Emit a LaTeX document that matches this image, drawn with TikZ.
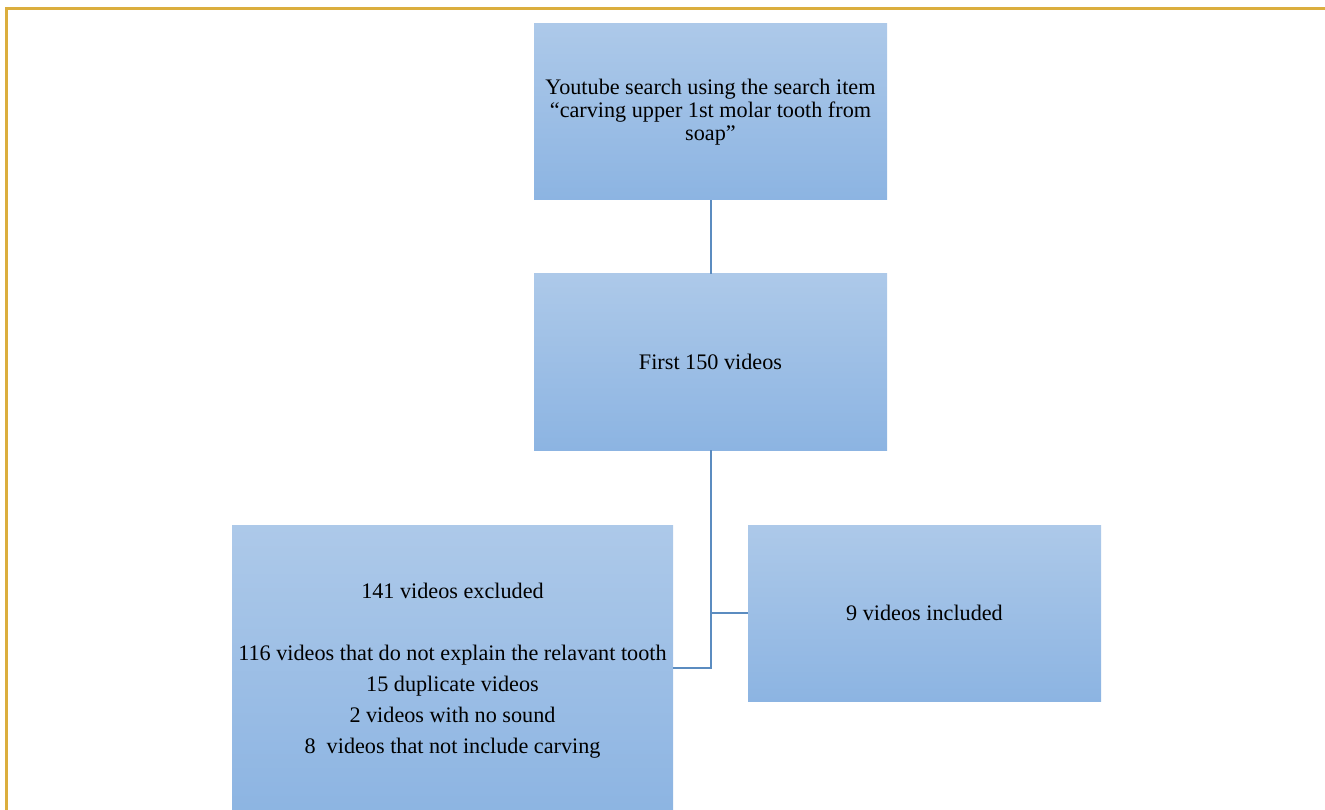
\documentclass[tikz,border=0pt]{standalone}
\usepackage{fontspec}
\setmainfont{Liberation Serif}
\definecolor{boxtop}{HTML}{ADC9E9}
\definecolor{boxbottom}{HTML}{8CB4E2}
\definecolor{linkblue}{HTML}{5B8CC0}
\definecolor{framegold}{HTML}{DBAE3E}
\begin{document}
\begin{tikzpicture}[x=1pt,y=-1pt,
        stage/.style={rectangle,top color=boxtop,bottom color=boxbottom,align=center,
            minimum width=353pt,minimum height=176pt,inner sep=0pt,
            font=\fontsize{22.2pt}{23pt}\selectfont},
        link/.style={linkblue,line width=2pt}]
        \useasboundingbox (0,0) rectangle (1325,810);
        \draw[framegold,line width=2.5pt] (6.3,812) -- (6.3,8.3) -- (1327,8.3);
        \node[stage] (search) at (710.5,112) {Youtube search using the search item\\``carving upper 1st molar tooth from\\soap''};
        \node[stage] (first) at (710.5,362) {First 150 videos};
        \node[stage,minimum width=441pt,minimum height=291pt,font=\fontsize{22.2pt}{31pt}\selectfont] (excluded) at (452.5,670.5)
            {141 videos excluded\\[31pt]116 videos that do not explain the relavant tooth\\15 duplicate videos\\2 videos with no sound\\8\ \ videos that not include carving};
        \node[stage] (included) at (924.5,613) {9 videos included};
        \draw[link] (search) -- (first);
        \draw[link] (first.south) |- ([yshift=3pt]excluded.east);
        \draw[link] (first.south |- included.west) -- (included.west);
    \end{tikzpicture}
\end{document}
